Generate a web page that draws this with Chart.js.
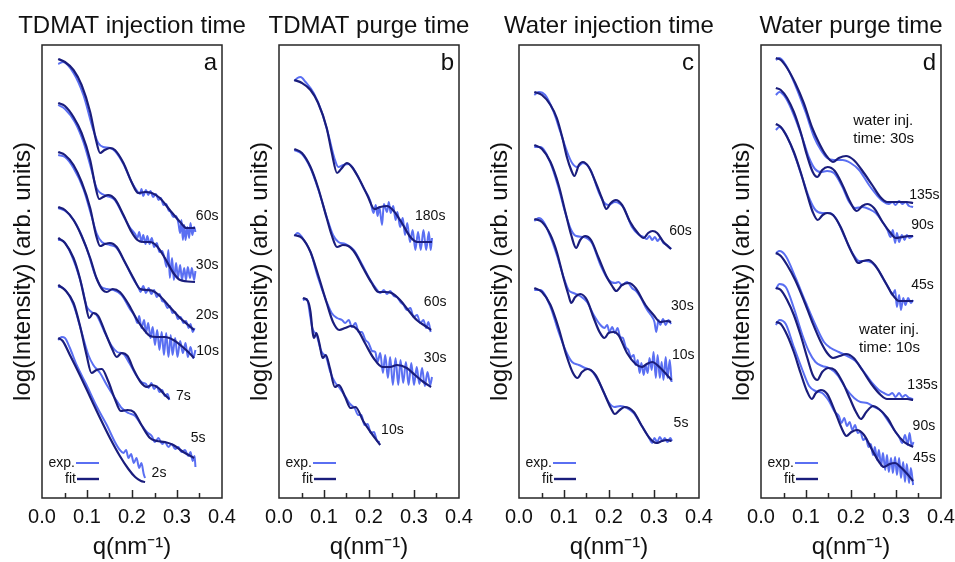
<!DOCTYPE html>
<html>
<head>
<meta charset="utf-8">
<script src="https://cdn.jsdelivr.net/npm/chart.js@4"></script>
<style>
  body { margin: 0; background: #fff; width: 955px; height: 562px; position: relative; overflow: hidden; }
  canvas { position: absolute; top: 0; }
</style>
</head>
<body>
<canvas id="pa" width="264" height="562" style="left:0px"></canvas>
<canvas id="pb" width="264" height="562" style="left:237px"></canvas>
<canvas id="pc" width="264" height="562" style="left:477px"></canvas>
<canvas id="pd" width="264" height="562" style="left:719px"></canvas>
<script>
//============ data: [q (nm^-1), log intensity + offset (arb. units)] ============//

// a - TDMAT injection time
var aFit60 = [[0.036,43.9],[0.051,43.6],[0.070,42.8],[0.088,41.3],[0.107,38.6],[0.120,35.8],[0.129,34.5],[0.139,34.8],[0.151,35.0],[0.162,34.8],[0.181,33.5],[0.199,31.6],[0.214,30.5],[0.229,30.6],[0.244,30.5],[0.262,30.0],[0.284,28.8],[0.307,27.6],[0.321,27.0],[0.340,27.0]];
var aExp60 = [[0.036,43.4],[0.047,43.6],[0.070,42.5],[0.092,40.3],[0.114,36.8],[0.125,35.5],[0.136,35.1],[0.151,35.0],[0.162,34.7],[0.181,33.4],[0.199,31.6],[0.210,30.8],[0.218,30.4],[0.221,30.9],[0.225,30.2],[0.231,30.8],[0.236,30.3],[0.241,30.7],[0.247,30.1],[0.253,30.4],[0.259,29.8],[0.264,30.0],[0.270,29.3],[0.276,29.4],[0.281,28.8],[0.286,28.6],[0.292,28.1],[0.298,28.2],[0.303,27.5],[0.307,26.5],[0.310,27.8],[0.313,25.8],[0.316,27.3],[0.319,25.8],[0.323,27.1],[0.327,26.0],[0.330,27.5],[0.334,26.3],[0.338,27.1],[0.341,26.6]];
var aFit30 = [[0.036,39.5],[0.051,39.2],[0.070,38.1],[0.088,36.5],[0.107,33.8],[0.118,31.3],[0.127,29.9],[0.136,30.1],[0.147,30.3],[0.162,29.9],[0.181,28.3],[0.199,26.6],[0.212,25.8],[0.225,25.6],[0.240,25.6],[0.255,25.2],[0.273,24.0],[0.292,22.5],[0.307,21.8],[0.340,21.6]];
var aExp30 = [[0.036,39.3],[0.051,38.9],[0.073,37.6],[0.092,35.6],[0.110,32.8],[0.121,31.0],[0.130,30.5],[0.144,30.2],[0.162,29.8],[0.181,28.2],[0.196,27.0],[0.207,26.4],[0.212,26.0],[0.216,26.6],[0.221,25.6],[0.225,26.3],[0.230,25.4],[0.234,26.2],[0.239,25.4],[0.244,26.0],[0.249,25.1],[0.255,25.5],[0.261,24.6],[0.267,24.7],[0.272,24.0],[0.277,23.1],[0.281,24.8],[0.284,22.0],[0.289,24.0],[0.293,21.8],[0.298,23.5],[0.302,22.0],[0.307,23.3],[0.311,21.8],[0.316,23.0],[0.320,21.8],[0.324,23.1],[0.329,22.0],[0.333,23.0],[0.338,21.8],[0.341,22.7]];
var aFit20 = [[0.036,34.6],[0.051,34.3],[0.070,33.3],[0.088,31.6],[0.107,29.0],[0.120,26.3],[0.129,25.2],[0.140,25.4],[0.151,25.5],[0.166,25.1],[0.184,23.6],[0.203,22.0],[0.218,20.9],[0.233,20.8],[0.247,20.7],[0.262,20.2],[0.284,19.1],[0.307,18.0],[0.325,17.3],[0.338,16.8]];
var aExp20 = [[0.036,34.3],[0.051,34.1],[0.070,33.0],[0.092,30.9],[0.110,28.2],[0.121,26.5],[0.133,25.6],[0.151,25.3],[0.166,25.0],[0.184,23.6],[0.203,21.9],[0.214,21.1],[0.219,20.6],[0.225,21.2],[0.231,20.5],[0.237,21.0],[0.243,20.4],[0.249,20.8],[0.255,20.1],[0.261,20.4],[0.267,19.7],[0.272,19.6],[0.279,19.0],[0.284,19.2],[0.290,18.5],[0.296,18.6],[0.302,17.9],[0.308,18.1],[0.314,17.5],[0.320,17.7],[0.326,17.0],[0.330,17.4],[0.335,16.6],[0.339,17.0]];
var aFit10 = [[0.036,29.1],[0.051,28.8],[0.070,27.8],[0.088,26.2],[0.107,24.0],[0.121,22.0],[0.135,20.8],[0.144,20.6],[0.157,20.9],[0.173,20.6],[0.192,19.4],[0.210,17.9],[0.227,16.8],[0.240,16.2],[0.255,16.1],[0.273,16.1],[0.292,15.8],[0.310,15.2],[0.325,14.6],[0.338,14.0]];
var aExp10 = [[0.036,29.0],[0.055,28.6],[0.077,27.3],[0.099,25.0],[0.118,22.3],[0.130,21.2],[0.144,20.9],[0.159,20.8],[0.177,20.3],[0.194,19.0],[0.207,18.1],[0.212,17.5],[0.216,18.2],[0.221,17.0],[0.227,17.8],[0.231,16.5],[0.236,17.5],[0.241,16.0],[0.246,17.1],[0.251,15.3],[0.256,16.8],[0.261,14.8],[0.266,16.6],[0.271,14.3],[0.276,16.5],[0.281,14.1],[0.286,16.3],[0.290,14.3],[0.296,16.0],[0.301,14.1],[0.307,15.7],[0.313,14.5],[0.319,15.5],[0.324,14.1],[0.330,15.1],[0.336,14.0],[0.341,14.8]];
var aFit7 = [[0.036,26.0],[0.051,25.5],[0.070,24.0],[0.084,22.0],[0.096,19.6],[0.105,18.0],[0.114,18.5],[0.125,18.2],[0.140,16.6],[0.155,15.0],[0.166,14.1],[0.177,14.5],[0.190,14.2],[0.204,12.8],[0.219,11.6],[0.233,11.1],[0.244,11.3],[0.259,11.0],[0.271,10.4],[0.283,9.9]];
var aExp7 = [[0.036,25.8],[0.047,25.7],[0.070,23.8],[0.088,21.3],[0.099,19.2],[0.110,18.6],[0.121,18.3],[0.140,16.5],[0.155,15.2],[0.167,14.6],[0.181,14.4],[0.194,13.5],[0.209,12.3],[0.221,11.6],[0.231,11.4],[0.237,11.0],[0.243,11.5],[0.249,10.9],[0.255,11.2],[0.261,10.6],[0.267,10.8],[0.273,10.2],[0.279,10.4],[0.283,9.8]];
var aFit5 = [[0.036,21.3],[0.051,20.8],[0.070,19.5],[0.084,17.3],[0.099,14.3],[0.110,12.5],[0.121,12.8],[0.133,12.9],[0.147,11.7],[0.162,9.9],[0.175,8.7],[0.190,8.8],[0.204,8.6],[0.221,7.3],[0.240,6.0],[0.255,5.7],[0.273,5.6],[0.292,5.3],[0.314,4.6],[0.338,4.0]];
var aExp5 = [[0.036,21.1],[0.047,21.0],[0.070,19.3],[0.088,16.6],[0.103,14.3],[0.114,13.3],[0.129,12.5],[0.144,11.3],[0.162,10.0],[0.177,9.0],[0.192,8.5],[0.207,8.2],[0.221,7.3],[0.233,6.6],[0.244,6.2],[0.251,5.6],[0.259,6.0],[0.267,5.4],[0.273,5.6],[0.281,5.1],[0.288,5.4],[0.296,4.9],[0.303,5.1],[0.310,4.6],[0.318,4.8],[0.325,4.2],[0.330,4.6],[0.335,3.7],[0.339,4.2],[0.341,3.1]];
var aFit2 = [[0.036,16.0],[0.046,15.7],[0.062,14.3],[0.084,12.3],[0.107,10.1],[0.129,8.0],[0.151,6.0],[0.173,4.2],[0.192,2.9],[0.207,2.1],[0.220,1.7],[0.229,1.6]];
var aExp2 = [[0.036,15.8],[0.044,16.1],[0.051,16.0],[0.062,15.0],[0.077,13.3],[0.099,11.3],[0.121,9.2],[0.144,7.3],[0.162,5.6],[0.173,4.8],[0.181,4.5],[0.187,4.8],[0.192,4.0],[0.198,4.4],[0.204,3.5],[0.210,4.0],[0.216,3.0],[0.221,3.5],[0.226,2.4],[0.229,2.0]];
var aTimes = ['60s', '30s', '20s', '10s', '7s', '5s', '2s'];

// b - TDMAT purge time
var bFit180 = [[0.034,41.8],[0.051,41.5],[0.070,40.8],[0.087,39.5],[0.106,37.0],[0.117,34.6],[0.129,32.5],[0.138,32.9],[0.151,33.5],[0.162,33.1],[0.177,32.0],[0.196,30.3],[0.212,28.9],[0.225,29.1],[0.240,29.2],[0.255,28.7],[0.273,27.5],[0.292,26.1],[0.307,25.6],[0.340,25.6]];
var bExp180 = [[0.034,41.7],[0.041,42.0],[0.048,42.1],[0.059,41.6],[0.077,40.5],[0.095,38.6],[0.110,36.3],[0.123,34.0],[0.132,33.1],[0.143,33.3],[0.155,33.4],[0.170,32.6],[0.188,31.0],[0.203,29.7],[0.210,28.5],[0.215,29.3],[0.219,28.2],[0.223,29.1],[0.229,27.3],[0.233,29.4],[0.240,28.6],[0.244,29.6],[0.248,28.5],[0.254,29.2],[0.259,27.8],[0.263,28.6],[0.269,27.1],[0.275,28.0],[0.280,26.3],[0.285,27.5],[0.291,25.6],[0.297,26.8],[0.303,24.8],[0.309,26.6],[0.315,24.8],[0.321,26.8],[0.327,24.8],[0.333,26.6],[0.337,24.8],[0.340,26.0]];
var bFit60 = [[0.034,34.9],[0.051,34.5],[0.070,33.1],[0.087,31.0],[0.106,28.0],[0.117,26.3],[0.129,25.1],[0.142,25.3],[0.154,25.2],[0.169,24.5],[0.187,23.0],[0.206,21.5],[0.221,20.6],[0.236,20.6],[0.250,20.5],[0.269,19.8],[0.287,18.8],[0.306,17.8],[0.325,17.2],[0.338,16.8]];
var bExp60 = [[0.034,34.8],[0.051,34.4],[0.070,33.0],[0.087,30.9],[0.106,28.1],[0.120,26.3],[0.132,25.6],[0.147,25.4],[0.166,24.8],[0.184,23.4],[0.203,21.8],[0.218,20.8],[0.225,20.5],[0.233,20.8],[0.240,20.4],[0.247,20.7],[0.255,20.2],[0.262,20.1],[0.270,19.6],[0.277,19.3],[0.284,18.8],[0.292,19.0],[0.299,18.1],[0.307,18.3],[0.314,17.5],[0.321,17.8],[0.327,17.0],[0.332,17.6],[0.337,16.6]];
var bFit30 = [[0.034,26.3],[0.051,26.0],[0.070,24.6],[0.087,22.3],[0.106,19.5],[0.120,17.6],[0.134,16.8],[0.147,17.0],[0.160,17.2],[0.175,16.8],[0.191,15.5],[0.210,14.0],[0.230,13.1],[0.247,13.1],[0.262,13.3],[0.284,13.0],[0.302,12.3],[0.321,11.6],[0.338,11.1]];
var bExp30 = [[0.034,26.2],[0.041,26.5],[0.051,26.1],[0.070,24.6],[0.087,22.0],[0.106,19.6],[0.117,18.5],[0.129,18.0],[0.140,17.8],[0.147,17.5],[0.155,17.8],[0.162,17.1],[0.170,17.5],[0.177,16.6],[0.184,16.6],[0.192,15.8],[0.199,15.5],[0.207,14.7],[0.214,14.6],[0.219,13.6],[0.225,14.5],[0.231,12.5],[0.236,14.3],[0.242,12.0],[0.247,14.1],[0.253,11.3],[0.259,14.0],[0.265,11.3],[0.270,13.8],[0.276,11.5],[0.282,13.6],[0.288,11.3],[0.294,13.5],[0.300,11.3],[0.306,13.1],[0.312,11.4],[0.318,13.0],[0.324,11.2],[0.330,12.6],[0.336,11.3],[0.340,12.1]];
var bFit10 = [[0.053,20.0],[0.064,19.7],[0.070,18.6],[0.075,16.5],[0.078,16.0],[0.083,16.5],[0.090,15.4],[0.097,14.0],[0.104,14.3],[0.113,13.0],[0.124,11.1],[0.133,11.3],[0.147,10.1],[0.159,9.0],[0.170,9.1],[0.187,7.7],[0.205,6.5],[0.225,5.3]];
var bExp10 = [[0.053,19.8],[0.062,19.9],[0.070,18.0],[0.074,17.0],[0.078,16.6],[0.083,16.4],[0.092,14.9],[0.098,14.4],[0.104,14.2],[0.114,12.6],[0.124,11.6],[0.133,11.1],[0.148,10.1],[0.158,9.4],[0.168,9.0],[0.176,8.3],[0.183,8.3],[0.190,7.3],[0.197,7.4],[0.204,6.5],[0.211,6.6],[0.218,5.7],[0.224,5.6]];
var bTimes = ['180s', '60s', '30s', '10s'];

// c - water injection time
var cFit60 = [[0.034,40.6],[0.051,40.3],[0.070,39.3],[0.084,38.0],[0.096,36.1],[0.107,34.0],[0.116,32.8],[0.123,32.2],[0.133,33.3],[0.142,33.6],[0.155,33.1],[0.170,31.6],[0.184,30.0],[0.194,28.9],[0.204,29.5],[0.215,29.8],[0.229,29.3],[0.247,27.6],[0.264,26.5],[0.277,26.0],[0.287,26.5],[0.297,26.7],[0.307,26.5],[0.321,25.6],[0.338,24.9]];
var cExp60 = [[0.034,40.3],[0.044,40.6],[0.058,40.3],[0.077,38.6],[0.092,36.6],[0.107,34.6],[0.118,33.5],[0.129,33.1],[0.142,33.5],[0.159,32.8],[0.177,30.6],[0.190,29.5],[0.199,29.3],[0.213,29.6],[0.233,29.0],[0.251,27.1],[0.267,26.3],[0.277,26.1],[0.284,25.9],[0.290,26.2],[0.296,25.8],[0.302,26.1],[0.308,25.7],[0.314,26.0],[0.321,25.5],[0.329,25.3],[0.338,24.9]];
var cFit30 = [[0.034,35.3],[0.051,34.9],[0.070,33.6],[0.088,31.3],[0.103,28.6],[0.116,26.3],[0.127,25.0],[0.136,25.8],[0.147,26.2],[0.160,25.8],[0.177,24.0],[0.194,22.2],[0.207,21.2],[0.216,20.7],[0.229,21.3],[0.244,21.5],[0.259,21.0],[0.281,19.3],[0.299,18.3],[0.314,17.6],[0.329,17.7],[0.338,17.6]];
var cExp30 = [[0.034,35.1],[0.047,35.1],[0.070,33.5],[0.088,31.0],[0.103,28.5],[0.116,26.8],[0.127,26.2],[0.144,26.1],[0.162,25.5],[0.181,23.3],[0.199,21.8],[0.214,21.5],[0.221,21.6],[0.229,21.3],[0.240,21.6],[0.251,21.0],[0.262,20.6],[0.271,20.0],[0.281,19.1],[0.288,18.6],[0.296,18.1],[0.301,17.6],[0.305,16.6],[0.310,17.8],[0.314,17.3],[0.320,17.9],[0.326,17.3],[0.332,17.8],[0.338,17.4]];
var cFit10 = [[0.034,27.9],[0.051,27.6],[0.070,26.3],[0.084,24.6],[0.099,22.0],[0.110,20.3],[0.116,19.5],[0.125,20.1],[0.136,20.4],[0.151,19.8],[0.166,18.0],[0.179,16.6],[0.190,16.0],[0.199,16.5],[0.210,16.6],[0.221,16.3],[0.240,14.5],[0.259,13.4],[0.273,13.1],[0.284,13.4],[0.296,13.6],[0.312,13.1],[0.327,12.4],[0.339,11.8]];
var cExp10 = [[0.034,27.7],[0.044,28.0],[0.055,27.6],[0.070,26.1],[0.084,24.3],[0.099,22.1],[0.110,20.8],[0.121,20.5],[0.136,20.2],[0.151,19.6],[0.166,18.3],[0.181,17.3],[0.190,17.0],[0.196,17.3],[0.201,16.6],[0.207,17.1],[0.213,16.5],[0.219,17.0],[0.225,16.1],[0.231,16.0],[0.237,15.1],[0.243,14.8],[0.249,14.1],[0.255,14.3],[0.259,13.3],[0.264,13.8],[0.268,12.5],[0.272,13.5],[0.277,12.3],[0.281,13.3],[0.286,12.5],[0.290,14.0],[0.295,12.8],[0.299,14.6],[0.304,12.0],[0.308,14.3],[0.313,12.0],[0.317,13.6],[0.321,11.8],[0.326,14.1],[0.330,12.0],[0.335,13.8],[0.339,11.6]];
var cFit5 = [[0.034,21.0],[0.051,20.6],[0.070,19.3],[0.088,17.0],[0.105,14.3],[0.120,12.5],[0.130,12.0],[0.140,12.6],[0.152,12.9],[0.170,12.3],[0.188,10.6],[0.204,9.0],[0.213,8.4],[0.224,8.8],[0.235,9.1],[0.255,8.6],[0.273,7.2],[0.290,6.0],[0.305,5.5],[0.318,5.7],[0.329,5.8],[0.339,5.7]];
var cExp5 = [[0.034,20.8],[0.047,20.8],[0.070,19.1],[0.088,16.6],[0.105,14.6],[0.118,13.6],[0.133,13.3],[0.147,13.0],[0.162,12.7],[0.181,11.3],[0.199,9.6],[0.212,9.1],[0.225,9.2],[0.240,9.0],[0.255,8.5],[0.273,7.2],[0.288,6.1],[0.296,5.5],[0.301,6.0],[0.307,5.6],[0.313,6.1],[0.319,5.7],[0.324,6.0],[0.330,5.6],[0.336,6.0],[0.340,5.7]];
var cTimes = ['60s', '30s', '10s', '5s'];

// d - water purge time (upper three: water inj. 30s, lower three: water inj. 10s)
var dFit135u = [[0.033,44.0],[0.044,43.8],[0.058,43.0],[0.076,41.5],[0.095,39.5],[0.113,37.1],[0.129,35.5],[0.144,34.3],[0.160,33.6],[0.173,34.0],[0.189,34.2],[0.206,33.8],[0.224,32.8],[0.247,31.3],[0.265,30.1],[0.280,29.6],[0.292,29.6],[0.310,29.6],[0.324,29.6],[0.338,29.5]];
var dExp135u = [[0.033,43.8],[0.041,44.0],[0.055,43.3],[0.076,41.3],[0.099,38.6],[0.118,36.1],[0.133,34.8],[0.147,34.0],[0.162,33.8],[0.181,33.8],[0.199,33.5],[0.218,32.8],[0.240,31.3],[0.259,30.2],[0.273,29.6],[0.284,29.4],[0.292,29.6],[0.299,29.3],[0.307,29.7],[0.314,29.4],[0.321,29.6],[0.329,29.2],[0.338,29.1]];
var dFit90u = [[0.033,41.0],[0.044,40.8],[0.058,40.0],[0.073,38.6],[0.088,36.6],[0.102,34.3],[0.115,32.6],[0.125,32.1],[0.136,32.8],[0.148,33.1],[0.164,32.7],[0.181,31.3],[0.196,29.8],[0.207,28.9],[0.213,28.7],[0.225,29.2],[0.236,29.4],[0.251,29.0],[0.270,27.6],[0.288,26.5],[0.299,26.0],[0.314,26.1],[0.329,26.2],[0.338,26.2]];
var dExp90u = [[0.033,40.3],[0.041,40.6],[0.055,40.0],[0.073,38.3],[0.092,36.0],[0.107,34.0],[0.120,32.9],[0.133,32.6],[0.147,32.7],[0.162,32.5],[0.181,31.1],[0.196,29.6],[0.210,29.0],[0.225,29.1],[0.240,28.9],[0.255,28.5],[0.270,27.6],[0.281,26.8],[0.288,26.1],[0.293,26.8],[0.298,25.5],[0.302,26.5],[0.307,25.6],[0.313,26.3],[0.319,25.8],[0.324,26.3],[0.330,26.0],[0.338,26.2]];
var dFit45u = [[0.033,37.4],[0.044,37.1],[0.058,36.1],[0.073,34.6],[0.088,32.6],[0.103,30.3],[0.115,28.6],[0.126,27.8],[0.137,28.3],[0.147,28.5],[0.160,28.3],[0.177,27.1],[0.194,25.3],[0.207,24.1],[0.216,23.5],[0.227,23.7],[0.239,23.8],[0.253,23.3],[0.271,22.0],[0.290,20.5],[0.307,19.7],[0.321,19.7],[0.338,19.7]];
var dExp45u = [[0.033,36.8],[0.041,37.1],[0.055,36.4],[0.073,34.5],[0.092,32.0],[0.107,30.0],[0.121,28.8],[0.136,28.5],[0.151,28.5],[0.166,28.0],[0.184,26.3],[0.203,24.5],[0.218,23.7],[0.233,23.7],[0.247,23.5],[0.261,22.8],[0.273,21.8],[0.284,21.0],[0.292,20.3],[0.298,20.8],[0.302,19.1],[0.307,20.3],[0.311,18.8],[0.316,20.0],[0.321,19.3],[0.327,20.0],[0.333,19.5],[0.338,19.8]];
var dFit135l = [[0.033,24.5],[0.044,24.2],[0.058,23.3],[0.076,21.8],[0.095,19.8],[0.113,17.7],[0.133,15.6],[0.147,14.5],[0.160,14.0],[0.175,14.2],[0.189,14.4],[0.206,14.0],[0.225,12.8],[0.247,11.3],[0.266,10.3],[0.280,9.9],[0.296,9.9],[0.310,9.9],[0.325,9.9],[0.338,9.8]];
var dExp135l = [[0.033,24.5],[0.041,24.7],[0.055,24.2],[0.077,22.0],[0.099,19.6],[0.121,17.3],[0.140,15.6],[0.155,15.0],[0.173,14.6],[0.192,14.2],[0.210,13.7],[0.229,12.6],[0.247,11.5],[0.262,10.8],[0.273,10.5],[0.284,10.3],[0.292,10.5],[0.299,10.1],[0.307,10.5],[0.314,10.1],[0.321,10.3],[0.329,10.0],[0.338,9.9]];
var dFit90l = [[0.033,21.0],[0.044,20.8],[0.058,19.8],[0.073,18.3],[0.088,16.3],[0.103,14.0],[0.115,12.3],[0.125,11.8],[0.136,12.6],[0.150,13.0],[0.164,12.8],[0.181,11.6],[0.197,10.0],[0.210,8.7],[0.222,7.9],[0.234,8.6],[0.249,9.2],[0.262,8.9],[0.281,8.0],[0.299,6.6],[0.318,5.6],[0.329,5.3],[0.338,5.1]];
var dExp90l = [[0.033,20.9],[0.041,21.4],[0.055,21.1],[0.073,19.0],[0.092,16.3],[0.107,14.6],[0.121,13.6],[0.136,13.2],[0.151,13.0],[0.170,12.3],[0.188,11.0],[0.207,10.0],[0.221,9.6],[0.236,9.5],[0.251,9.1],[0.267,8.7],[0.281,7.8],[0.296,6.8],[0.307,6.1],[0.314,5.5],[0.320,6.3],[0.326,5.3],[0.330,6.5],[0.335,5.2],[0.339,5.6]];
var dFit45l = [[0.033,17.6],[0.044,17.4],[0.058,16.3],[0.073,14.6],[0.088,12.5],[0.102,10.7],[0.113,9.9],[0.122,10.5],[0.133,10.8],[0.147,10.4],[0.164,8.7],[0.179,7.0],[0.190,6.2],[0.201,6.6],[0.213,6.8],[0.229,6.3],[0.247,4.8],[0.264,3.5],[0.273,3.1],[0.286,3.4],[0.298,3.5],[0.310,3.1],[0.325,2.4],[0.338,1.7]];
var dExp45l = [[0.033,17.3],[0.041,17.8],[0.055,17.4],[0.073,15.1],[0.092,12.8],[0.107,11.2],[0.121,10.7],[0.136,10.5],[0.151,9.7],[0.164,8.6],[0.173,8.2],[0.179,7.5],[0.185,8.0],[0.191,7.2],[0.197,7.6],[0.203,6.8],[0.209,7.3],[0.215,6.5],[0.221,6.6],[0.227,5.8],[0.233,6.0],[0.239,5.1],[0.244,5.4],[0.249,4.3],[0.253,5.1],[0.258,3.8],[0.262,4.8],[0.267,3.2],[0.271,4.5],[0.276,2.8],[0.280,4.3],[0.284,2.6],[0.289,4.0],[0.293,2.5],[0.298,4.1],[0.302,2.3],[0.307,4.0],[0.311,2.0],[0.316,3.6],[0.320,1.6],[0.324,3.4],[0.329,1.5],[0.333,3.0],[0.338,1.3]];
var dTimes = ['135s', '90s', '45s', '135s', '90s', '45s'];
var dNotes = ['water inj.', 'time: 30s', 'water inj.', 'time: 10s'];

var xTicks = [0, 0.1, 0.2, 0.3, 0.4];

//============ where the small texts sit, in data units ============//
var aTimeAt = [[0.367,28.2],[0.367,23.3],[0.367,18.3],[0.368,14.7],[0.314,10.2],[0.347,6.0],[0.260,2.5]];
var bTimeAt = [[0.336,28.2],[0.347,19.6],[0.347,14.0],[0.252,6.8]];
var cTimeAt = [[0.359,26.7],[0.363,19.2],[0.365,14.3],[0.360,7.5]];
var dTimeAt = [[0.363,30.3],[0.359,27.3],[0.359,21.3],[0.359,11.3],[0.362,7.2],[0.363,4.0]];
var dNoteAt = [[0.205,37.7],[0.205,35.9],[0.218,16.8],[0.218,15.0]];

var fontFamily = '"Liberation Sans", Arial, Helvetica, sans-serif';
var expColor = '#5a6ff2';
var fitColor = '#1a1d7c';
var frameTicks = [0.05, 0.1, 0.15, 0.2, 0.25, 0.3, 0.35];

Chart.defaults.font.family = fontFamily;
Chart.defaults.color = '#111';

// frame, inner ticks, panel letter, curve labels, notes and the little legend
var panelDecor = {
  id: 'panelDecor',
  afterDatasetsDraw: function(chart, args, opts) {
    var ctx = chart.ctx;
    var ca = chart.chartArea;
    var x = chart.scales.x;
    var y = chart.scales.y;
    ctx.save();
    ctx.strokeStyle = '#262626';
    ctx.lineWidth = 1.5;
    ctx.strokeRect(ca.left, ca.top, ca.right - ca.left, ca.bottom - ca.top);
    frameTicks.forEach(function(t) {
      var px = Math.round(x.getPixelForValue(t)) + 0.5;
      var len = Math.round(t * 100) % 10 === 0 ? 8 : 5;
      ctx.beginPath();
      ctx.moveTo(px, ca.bottom);
      ctx.lineTo(px, ca.bottom - len);
      ctx.stroke();
    });

    ctx.fillStyle = '#111';
    ctx.textBaseline = 'middle';
    ctx.textAlign = 'right';
    ctx.font = '24px ' + fontFamily;
    ctx.fillText(opts.letter, ca.right - 5, ca.top + 18);

    ctx.font = '14px ' + fontFamily;
    ctx.textAlign = 'center';
    opts.labels.forEach(function(lab, i) {
      ctx.fillText(lab, x.getPixelForValue(opts.labelAt[i][0]), y.getPixelForValue(opts.labelAt[i][1]));
    });
    ctx.font = '15px ' + fontFamily;
    ctx.textAlign = 'left';
    (opts.notes || []).forEach(function(n, i) {
      ctx.fillText(n, x.getPixelForValue(opts.noteAt[i][0]), y.getPixelForValue(opts.noteAt[i][1]));
    });

    // legend
    ctx.font = '14px ' + fontFamily;
    ctx.textAlign = 'right';
    ctx.fillText('exp.', ca.left + 33, ca.bottom - 35);
    ctx.fillText('fit', ca.left + 34, ca.bottom - 19);
    ctx.lineWidth = 2;
    ctx.strokeStyle = expColor;
    ctx.beginPath(); ctx.moveTo(ca.left + 34, ca.bottom - 35); ctx.lineTo(ca.left + 57, ca.bottom - 35); ctx.stroke();
    ctx.lineWidth = 2.4;
    ctx.strokeStyle = fitColor;
    ctx.beginPath(); ctx.moveTo(ca.left + 35, ca.bottom - 19); ctx.lineTo(ca.left + 57, ca.bottom - 19); ctx.stroke();
    ctx.restore();
  }
};

function makeSet(points, color, width, order) {
  return {
    data: points.map(function(p) { return {x: p[0], y: p[1]}; }),
    borderColor: color,
    borderWidth: width,
    pointRadius: 0,
    fill: false,
    cubicInterpolationMode: 'monotone',
    order: order
  };
}

var panels = [
  {canvas: 'pa', title: 'TDMAT injection time', letter: 'a', labels: aTimes, labelAt: aTimeAt,
   curves: [[aExp60, aFit60], [aExp30, aFit30], [aExp20, aFit20], [aExp10, aFit10], [aExp7, aFit7], [aExp5, aFit5], [aExp2, aFit2]]},
  {canvas: 'pb', title: 'TDMAT purge time', letter: 'b', labels: bTimes, labelAt: bTimeAt,
   curves: [[bExp180, bFit180], [bExp60, bFit60], [bExp30, bFit30], [bExp10, bFit10]]},
  {canvas: 'pc', title: 'Water injection time', letter: 'c', labels: cTimes, labelAt: cTimeAt,
   curves: [[cExp60, cFit60], [cExp30, cFit30], [cExp10, cFit10], [cExp5, cFit5]]},
  {canvas: 'pd', title: 'Water purge time', letter: 'd', labels: dTimes, labelAt: dTimeAt, notes: dNotes, noteAt: dNoteAt,
   curves: [[dExp135u, dFit135u], [dExp90u, dFit90u], [dExp45u, dFit45u], [dExp135l, dFit135l], [dExp90l, dFit90l], [dExp45l, dFit45l]]}
];

panels.forEach(function(p) {
  var datasets = [];
  p.curves.forEach(function(c) {
    datasets.push(makeSet(c[1], fitColor, 2.2, 1));
    datasets.push(makeSet(c[0], expColor, 2, 2));
  });

  new Chart(document.getElementById(p.canvas), {
    type: 'line',
    data: { datasets: datasets },
    options: {
      responsive: false,
      animation: false,
      events: [],
      layout: { padding: 0 },
      plugins: {
        legend: { display: false },
        tooltip: { enabled: false },
        title: {
          display: true,
          text: p.title,
          color: '#111',
          font: { size: 24, weight: 'normal' },
          padding: { top: 12, bottom: 4.2 }
        },
        panelDecor: { letter: p.letter, labels: p.labels, labelAt: p.labelAt, notes: p.notes, noteAt: p.noteAt }
      },
      scales: {
        x: {
          type: 'linear',
          min: 0,
          max: 0.4,
          afterFit: function(s) { s.height = 64; },
          afterBuildTicks: function(s) { s.ticks = xTicks.map(function(v) { return {value: v}; }); },
          grid: { display: false, drawTicks: false },
          border: { display: false },
          ticks: {
            padding: 7,
            color: '#111',
            font: { size: 20 },
            maxRotation: 0,
            autoSkip: false,
            callback: function(v) { return Number(v).toFixed(1); }
          },
          title: { display: true, text: 'q(nm\u207B\u00B9)', color: '#111', font: { size: 24 }, padding: { top: 0, bottom: 0 } }
        },
        y: {
          type: 'linear',
          min: 0,
          max: 45.3,
          afterFit: function(s) { s.width = 42; },
          grid: { display: false, drawTicks: false },
          border: { display: false },
          ticks: { display: false },
          title: { display: true, text: 'log(Intensity) (arb. units)', color: '#111', font: { size: 24 }, padding: { top: 9, bottom: 0 } }
        },
        y2: {
          type: 'linear',
          position: 'right',
          afterFit: function(s) { s.width = 42; },
          grid: { display: false, drawTicks: false },
          border: { display: false },
          ticks: { display: false }
        }
      }
    },
    plugins: [panelDecor]
  });
});
</script>
</body>
</html>
